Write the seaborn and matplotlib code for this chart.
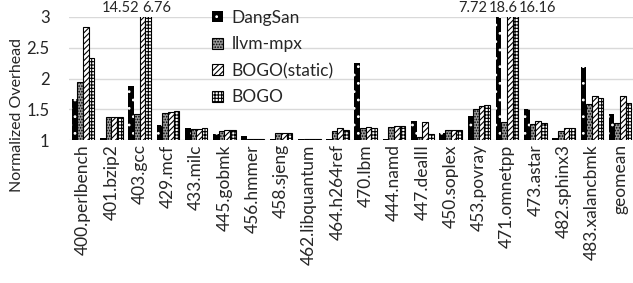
import numpy as np
import pandas as pd
import matplotlib
matplotlib.use("Agg")
import matplotlib.pyplot as plt
import seaborn as sns

benchmarks = ["400.perlbench", "401.bzip2", "403.gcc", "429.mcf", "433.milc",
              "445.gobmk", "456.hmmer", "458.sjeng", "462.libquantum", "464.h264ref",
              "470.lbm", "444.namd", "447.dealII", "450.soplex", "453.povray",
              "471.omnetpp", "473.astar", "482.sphinx3", "483.xalancbmk", "geomean"]
series = ["DangSan", "llvm-mpx", "BOGO(static)", "BOGO"]

dangsan = [1.67, 1.03, 1.88, 1.25, 1.20, 1.10, 1.06, 1.01, 1.01, 1.01,
           2.25, 1.01, 1.31, 1.11, 1.39, 7.72, 1.51, 1.04, 2.19, 1.42]
llvm_mpx = [1.94, 1.38, 1.43, 1.44, 1.18, 1.14, 1.01, 1.12, 1.01, 1.15,
            1.20, 1.22, 1.05, 1.16, 1.50, 1.29, 1.26, 1.15, 1.58, 1.27]
bogo_static = [2.84, 1.38, 14.52, 1.46, 1.18, 1.16, 1.01, 1.12, 1.01, 1.20,
               1.21, 1.23, 1.29, 1.16, 1.55, 18.6, 1.31, 1.20, 1.72, 1.72]
bogo = [2.34, 1.38, 6.76, 1.47, 1.19, 1.16, 1.01, 1.12, 1.01, 1.16,
        1.20, 1.23, 1.10, 1.17, 1.57, 16.16, 1.28, 1.20, 1.69, 1.60]

yticks = [1, 1.5, 2, 2.5, 3]
ytick_labels = ["1", "1.5", "2", "2.5", "3"]

df = pd.DataFrame({
    "bench": np.repeat(benchmarks, 4),
    "series": series * len(benchmarks),
    "value": np.ravel(np.column_stack([dangsan, llvm_mpx, bogo_static, bogo])),
})

sns.set_style("white")
plt.rcParams["font.family"] = ["Lato", "DejaVu Sans"]
plt.rcParams["hatch.linewidth"] = 0.8

fig = plt.figure(figsize=(6.33, 2.83), dpi=100)
ax = fig.add_axes([0.109, 0.505, 0.893, 0.435])

sns.barplot(data=df, x="bench", y="value", hue="series", order=benchmarks,
            hue_order=series, ax=ax, width=0.8, saturation=1, legend=True,
            palette=["black", "#808080", "white", "white"], edgecolor="black",
            linewidth=0.8, zorder=3)

styles = {
    "DangSan": dict(face="black", hatch="..", ec="white", lw=0.0),
    "llvm-mpx": dict(face="#9a9a9a", hatch="......", ec="black", lw=0.8),
    "BOGO(static)": dict(face="white", hatch="//////", ec="black", lw=0.8),
    "BOGO": dict(face="white", hatch="+++++", ec="black", lw=0.8),
}

def style_patch(p, s):
    st = styles[s]
    p.set_facecolor(st["face"])
    p.set_hatch(st["hatch"])
    p.set_edgecolor(st["ec"])
    p.set_linewidth(st["lw"])

for cont, s in zip(ax.containers, series):
    for p in cont.patches:
        style_patch(p, s)

ax.set_ylim(1, 3)
ax.set_xlim(-0.5, len(benchmarks) - 0.5)
ax.set_yticks(yticks)
ax.set_yticklabels(ytick_labels, fontsize=12)
ax.tick_params(axis="x", rotation=90, labelsize=12.5, length=0, pad=3)
ax.tick_params(axis="y", length=0, pad=14)
ax.yaxis.grid(True, color="#d9d9d9", linewidth=1, zorder=0)
ax.set_axisbelow(True)
for sp in ax.spines.values():
    sp.set_visible(False)
ax.set_xlabel("")
ax.set_ylabel("")
fig.text(0.027, 0.592, "Normalized Overhead", rotation=90, ha="center",
         va="center", fontsize=11.5)

leg = ax.legend(loc="upper left", bbox_to_anchor=(0.232, 1.155), frameon=False,
                fontsize=12.5, handlelength=0.6, handleheight=0.6,
                handletextpad=0.5, labelspacing=0.6, borderpad=0.2)
for h, s in zip(leg.legend_handles, series):
    style_patch(h, s)

kw = dict(fontsize=10.5, va="bottom", clip_on=False)
ax.text(2.0, 3.03, "14.52", ha="right", **kw)
ax.text(2.1, 3.03, "6.76", ha="left", **kw)
ax.text(14.3, 3.03, "7.72", ha="right", **kw)
ax.text(14.85, 3.03, "18.6", ha="center", **kw)
ax.text(15.4, 3.03, "16.16", ha="left", **kw)

fig.savefig("out.png", dpi=100)
